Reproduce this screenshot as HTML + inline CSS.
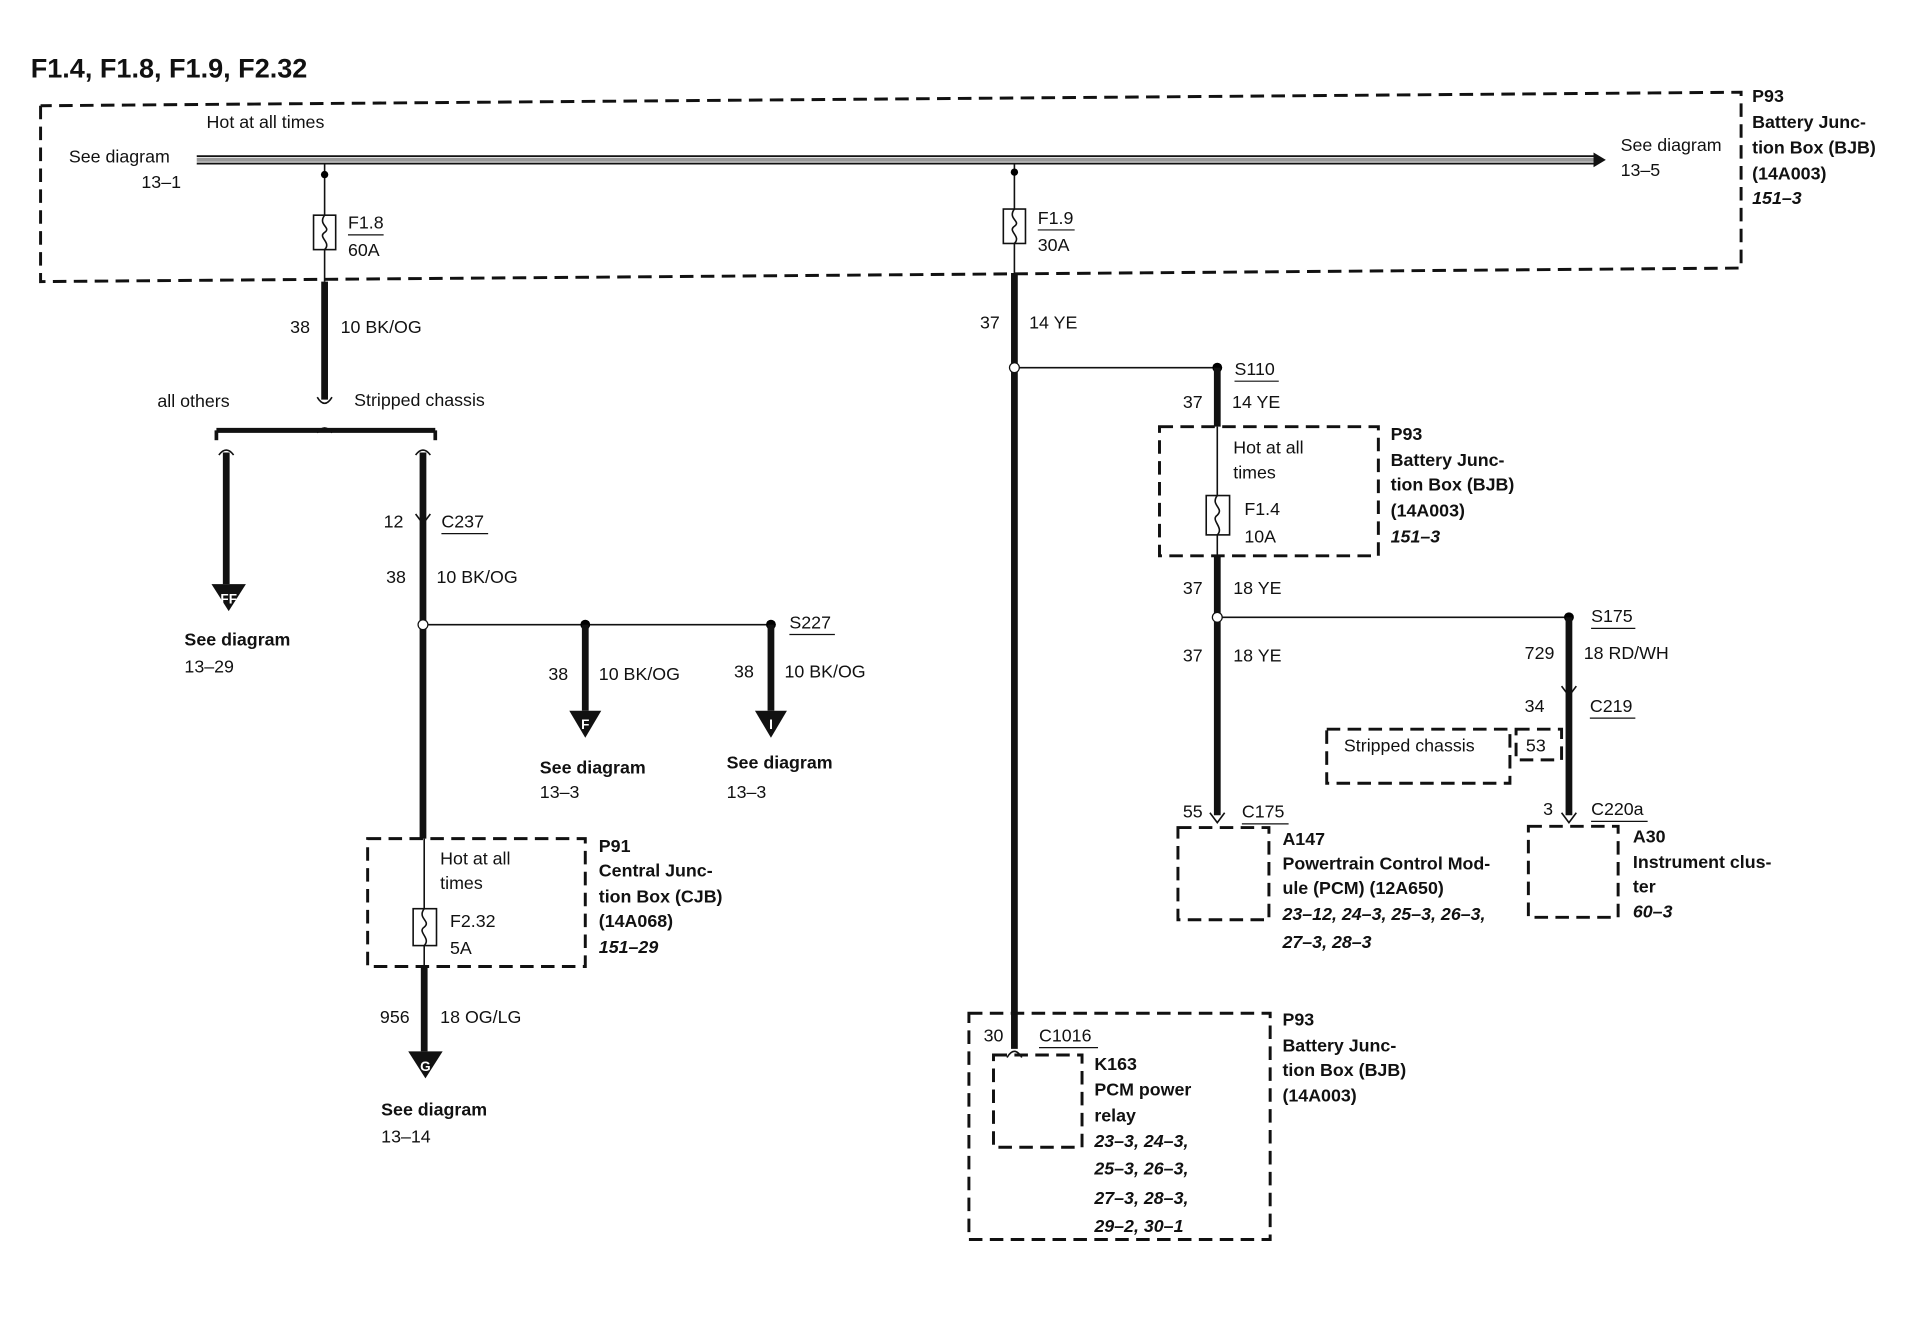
<!DOCTYPE html>
<html><head><meta charset="utf-8"><style>
html,body{margin:0;padding:0;background:#fff;}
svg{display:block}
text{font-family:"Liberation Sans",Arial,sans-serif;font-size:14.5px;fill:#111}
.b{font-weight:bold}
.i{font-style:italic;font-weight:bold}
.d{fill:none;stroke:#111;stroke-width:2.4;stroke-dasharray:11,6}
.t{stroke:#111;stroke-width:5.5;fill:none}
.n{stroke:#111;stroke-width:1.3;fill:none}
.u{stroke:#111;stroke-width:1;}
</style></head><body>
<svg width="1912" height="1328" viewBox="0 0 1555 1080" preserveAspectRatio="none" xmlns="http://www.w3.org/2000/svg">
<text x="25" y="63" class="b" style="font-size:22px">F1.4, F1.8, F1.9, F2.32</text>
<!-- top box -->
<path class="d" d="M33 86 L33 229 L1416 218 L1416 75 L33 86"/>
<!-- bus -->
<line x1="160" y1="127" x2="1298" y2="127" stroke="#111" stroke-width="1.5"/>
<line x1="160" y1="133" x2="1298" y2="133" stroke="#111" stroke-width="1.5"/>
<line x1="160" y1="130" x2="1298" y2="130" stroke="#999" stroke-width="3"/>
<polygon points="1296,124 1306,130 1296,136" fill="#111"/>
<text x="168" y="104">Hot at all times</text>
<text x="56" y="132">See diagram</text><text x="115" y="153">13–1</text>
<text x="1318" y="123">See diagram</text><text x="1318" y="143">13–5</text>
<text x="1425" y="83" class="b">P93</text><text x="1425" y="104" class="b">Battery Junc-</text><text x="1425" y="125" class="b">tion Box (BJB)</text><text x="1425" y="146" class="b">(14A003)</text><text x="1425" y="166" class="i">151–3</text>
<!-- F1.8 -->
<line class="n" x1="264" y1="133" x2="264" y2="175"/><circle cx="264" cy="142" r="3"/>
<rect x="255" y="175" width="18" height="28" class="n"/><path class="n" d="M264 175 c-6 8 6 10 0 14 c-6 4 6 8 0 14"/>
<line class="n" x1="264" y1="203" x2="264" y2="229"/>
<text x="283" y="186">F1.8</text><line class="u" x1="283" y1="191" x2="312" y2="191"/><text x="283" y="208">60A</text>
<line class="t" x1="264" y1="229" x2="264" y2="325"/>
<path class="n" stroke-width="2" d="M258 323 q6 10 12 0"/>
<text x="236" y="271">38</text><text x="277" y="271">10 BK/OG</text>
<text x="128" y="331">all others</text><text x="288" y="330">Stripped chassis</text>
<line x1="176" y1="350" x2="354" y2="350" stroke="#111" stroke-width="4"/>
<path class="n" stroke-width="2" d="M258 352 q6 -8 12 0"/>
<line x1="176" y1="350" x2="176" y2="358" stroke="#111" stroke-width="3"/>
<line x1="354" y1="350" x2="354" y2="358" stroke="#111" stroke-width="3"/>
<path class="n" stroke-width="2" d="M178 370 q6 -8 12 0"/>
<line class="t" x1="184" y1="368" x2="184" y2="475"/>
<polygon points="172,475 200,475 186,497" fill="#111"/><text x="186" y="491" text-anchor="middle" style="fill:#fff;font-size:11px" class="b">FF</text>
<text x="150" y="525" class="b">See diagram</text><text x="150" y="547">13–29</text>
<path class="n" stroke-width="2" d="M338 370 q6 -8 12 0"/>
<line class="t" x1="344" y1="368" x2="344" y2="682"/>
<path class="n" stroke-width="2" d="M338 418 l6 8 l6 -8"/>
<text x="312" y="429">12</text><text x="359" y="429">C237</text><line class="u" x1="359" y1="434" x2="397" y2="434"/>
<text x="314" y="474">38</text><text x="355" y="474">10 BK/OG</text>
<circle cx="344" cy="508" r="4" fill="#fff" stroke="#111"/>
<line class="n" x1="348" y1="508" x2="627" y2="508"/>
<circle cx="476" cy="508" r="4"/><circle cx="627" cy="508" r="4"/>
<text x="642" y="511">S227</text><line class="u" x1="642" y1="516" x2="679" y2="516"/>
<line class="t" x1="476" y1="508" x2="476" y2="578"/>
<polygon points="463,578 489,578 476,600" fill="#111"/><text x="476" y="593" text-anchor="middle" style="fill:#fff;font-size:11px" class="b">F</text>
<text x="446" y="553">38</text><text x="487" y="553">10 BK/OG</text>
<line class="t" x1="627" y1="508" x2="627" y2="578"/>
<polygon points="614,578 640,578 627,600" fill="#111"/><text x="627" y="593" text-anchor="middle" style="fill:#fff;font-size:11px" class="b">I</text>
<text x="597" y="551">38</text><text x="638" y="551">10 BK/OG</text>
<text x="439" y="629" class="b">See diagram</text><text x="439" y="649">13–3</text>
<text x="591" y="625" class="b">See diagram</text><text x="591" y="649">13–3</text>
<!-- P91 -->
<rect x="299" y="682" width="177" height="104" class="d"/>
<text x="358" y="703">Hot at all</text><text x="358" y="723">times</text>
<line class="n" x1="345" y1="682" x2="345" y2="739"/>
<rect x="336" y="739" width="19" height="30" class="n"/><path class="n" d="M345 739 c-6 8 6 10 0 15 c-6 4 6 9 0 15"/>
<line class="n" x1="345" y1="769" x2="345" y2="786"/>
<text x="366" y="754">F2.32</text><text x="366" y="776">5A</text>
<text x="487" y="693" class="b">P91</text><text x="487" y="713" class="b">Central Junc-</text><text x="487" y="734" class="b">tion Box (CJB)</text><text x="487" y="754" class="b">(14A068)</text><text x="487" y="775" class="i">151–29</text>
<line class="t" x1="345" y1="786" x2="345" y2="855"/>
<polygon points="332,855 360,855 346,877" fill="#111"/><text x="346" y="871" text-anchor="middle" style="fill:#fff;font-size:11px" class="b">G</text>
<text x="309" y="832">956</text><text x="358" y="832">18 OG/LG</text>
<text x="310" y="907" class="b">See diagram</text><text x="310" y="929">13–14</text>
<!-- F1.9 -->
<line class="n" x1="825" y1="133" x2="825" y2="170"/><circle cx="825" cy="140" r="3"/>
<rect x="816" y="170" width="18" height="28" class="n"/><path class="n" d="M825 170 c-6 8 6 10 0 14 c-6 4 6 8 0 14"/>
<line class="n" x1="825" y1="198" x2="825" y2="222"/>
<text x="844" y="182">F1.9</text><line class="u" x1="844" y1="187" x2="874" y2="187"/><text x="844" y="204">30A</text>
<line class="t" x1="825" y1="222" x2="825" y2="853"/>
<text x="797" y="267">37</text><text x="837" y="267">14 YE</text>
<circle cx="825" cy="299" r="4" fill="#fff" stroke="#111"/>
<line class="n" x1="829" y1="299" x2="990" y2="299"/><circle cx="990" cy="299" r="4"/>
<text x="1004" y="305">S110</text><line class="u" x1="1004" y1="310" x2="1040" y2="310"/>
<line class="t" x1="990" y1="299" x2="990" y2="347"/>
<text x="962" y="332">37</text><text x="1002" y="332">14 YE</text>
<rect x="943" y="347" width="178" height="105" class="d"/>
<text x="1003" y="369">Hot at all</text><text x="1003" y="389">times</text>
<line class="n" x1="990" y1="347" x2="990" y2="403"/>
<rect x="981" y="403" width="19" height="32" class="n"/><path class="n" d="M990 403 c-6 8 6 10 0 16 c-6 4 6 10 0 16"/>
<line class="n" x1="990" y1="435" x2="990" y2="452"/>
<text x="1012" y="419">F1.4</text><text x="1012" y="441">10A</text>
<text x="1131" y="358" class="b">P93</text><text x="1131" y="379" class="b">Battery Junc-</text><text x="1131" y="399" class="b">tion Box (BJB)</text><text x="1131" y="420" class="b">(14A003)</text><text x="1131" y="441" class="i">151–3</text>
<line class="t" x1="990" y1="452" x2="990" y2="663"/>
<text x="962" y="483">37</text><text x="1003" y="483">18 YE</text>
<circle cx="990" cy="502" r="4" fill="#fff" stroke="#111"/>
<line class="n" x1="994" y1="502" x2="1276" y2="502"/><circle cx="1276" cy="502" r="4"/>
<text x="1294" y="506">S175</text><line class="u" x1="1294" y1="511" x2="1330" y2="511"/>
<text x="962" y="538">37</text><text x="1003" y="538">18 YE</text>
<text x="962" y="665">55</text><text x="1010" y="665">C175</text><line class="u" x1="1010" y1="670" x2="1048" y2="670"/>
<path class="n" stroke-width="2" d="M984 661 l6 8 l6 -8"/>
<rect x="958" y="673" width="74" height="75" class="d"/>
<text x="1043" y="687" class="b">A147</text><text x="1043" y="707" class="b">Powertrain Control Mod-</text><text x="1043" y="727" class="b">ule (PCM) (12A650)</text><text x="1043" y="748" class="i">23–12, 24–3, 25–3, 26–3,</text><text x="1043" y="771" class="i">27–3, 28–3</text>
<line class="t" x1="1276" y1="502" x2="1276" y2="663"/>
<path class="n" stroke-width="2" d="M1270 558 l6 8 l6 -8"/>
<path class="n" stroke-width="2" d="M1270 661 l6 8 l6 -8"/>
<text x="1240" y="536">729</text><text x="1288" y="536">18 RD/WH</text>
<text x="1240" y="579">34</text><text x="1293" y="579">C219</text><line class="u" x1="1293" y1="584" x2="1330" y2="584"/>
<rect x="1079" y="593" width="149" height="44" class="d" stroke-width="1.5"/>
<text x="1093" y="611">Stripped chassis</text>
<rect x="1233" y="593" width="37" height="25" class="d" stroke-width="1.5" stroke-dasharray="6,4"/>
<text x="1241" y="611">53</text>
<text x="1255" y="663">3</text><text x="1294" y="663">C220a</text><line class="u" x1="1294" y1="668" x2="1340" y2="668"/>
<rect x="1243" y="672" width="73" height="74" class="d"/>
<text x="1328" y="685" class="b">A30</text><text x="1328" y="706" class="b">Instrument clus-</text><text x="1328" y="726" class="b">ter</text><text x="1328" y="746" class="i">60–3</text>
<!-- bottom box -->
<rect x="788" y="824" width="245" height="184" class="d"/>
<text x="800" y="847">30</text><text x="845" y="847">C1016</text><line class="u" x1="845" y1="852" x2="893" y2="852"/>
<path class="n" stroke-width="2" d="M819 860 q6 -10 12 0"/>
<rect x="808" y="858" width="72" height="75" class="d"/>
<text x="890" y="870" class="b">K163</text><text x="890" y="891" class="b">PCM power</text><text x="890" y="912" class="b">relay</text>
<text x="890" y="933" class="i">23–3, 24–3,</text><text x="890" y="955" class="i">25–3, 26–3,</text><text x="890" y="979" class="i">27–3, 28–3,</text><text x="890" y="1002" class="i">29–2, 30–1</text>
<text x="1043" y="834" class="b">P93</text><text x="1043" y="855" class="b">Battery Junc-</text><text x="1043" y="875" class="b">tion Box (BJB)</text><text x="1043" y="896" class="b">(14A003)</text>
</svg>
</body></html>
